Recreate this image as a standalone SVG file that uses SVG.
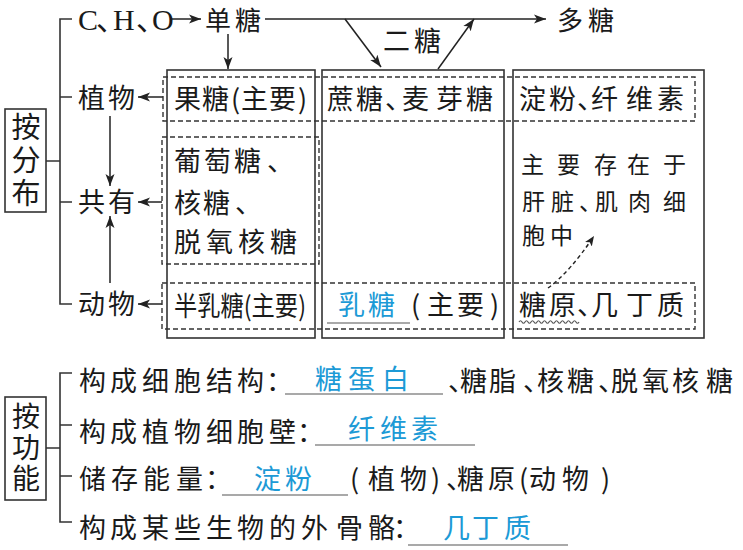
<svg xmlns="http://www.w3.org/2000/svg" width="743" height="550" viewBox="0 0 743 550">
<style>
.t{font-family:"Noto Sans CJK SC","Noto Sans CJK JP",sans-serif;font-size:27px;fill:#1a1a1a}
.top{font-size:26px}
.s{font-size:23px}
.bl{fill:#1c9ad6}
.v{writing-mode:vertical-rl}
.lat{font-family:"Liberation Serif","Noto Sans CJK SC",serif;font-size:30px;fill:#1a1a1a}
.ln{stroke:#333;stroke-width:1.6;fill:none}
.box{stroke:#333;stroke-width:1.6;fill:none}
.dash{stroke:#333;stroke-width:1.4;stroke-dasharray:5 3;fill:none}
.ul{stroke:#555;stroke-width:1.2;fill:none}
.ar{stroke:#222;stroke-width:1.5;fill:none;marker-end:url(#ah)}
.dar{stroke:#222;stroke-width:1.4;fill:none;stroke-dasharray:4 3;marker-end:url(#ahs)}
</style>
<defs>
<marker id="ah" markerUnits="userSpaceOnUse" markerWidth="13" markerHeight="10" refX="12" refY="5" orient="auto">
<path d="M0,0.5 L12,5 L0,9.5 L3,5 z" fill="#222"/>
</marker>
<marker id="ahs" markerUnits="userSpaceOnUse" markerWidth="11" markerHeight="9" refX="10" refY="4.5" orient="auto">
<path d="M0,0.5 L10,4.5 L0,8.5 L2.5,4.5 z" fill="#222"/>
</marker>
</defs>
<rect width="743" height="550" fill="#fff"/>

<g id="connectors">
<path class="ln" d="M72,19 H60 V304 H72 M60,97 H72 M60,202 H72 M46,161 H60"/>
<path class="ln" d="M72,373 H60 V522 H72 M60,425 H72 M60,476 H72 M46,448 H60"/>
<line class="ar" x1="172" y1="19" x2="201" y2="19"/>
<line class="ar" x1="228" y1="34" x2="228" y2="69"/>
<line class="ar" x1="265" y1="19" x2="546" y2="19"/>
<line class="ar" x1="345" y1="19" x2="381" y2="67"/>
<line class="ar" x1="438" y1="69" x2="474" y2="19"/>
<line class="ar" x1="163" y1="97" x2="138" y2="97"/>
<line class="ar" x1="162" y1="202" x2="138" y2="202"/>
<line class="ar" x1="162" y1="304" x2="138" y2="304"/>
<line class="ar" x1="110" y1="116" x2="110" y2="186"/>
<line class="ar" x1="110" y1="283" x2="110" y2="216"/>
<path class="dar" d="M548,288 Q570,272 594,236"/>
</g>

<g id="source">
<text class="lat" x="78 96 113 136 152" y="30">C、H、O</text>
</g>
<g id="monosaccharide"><text class="t top" x="205 235" y="30">单糖</text></g>
<g id="disaccharide"><text class="t" x="383 414" y="51">二糖</text></g>
<g id="polysaccharide"><text class="t top" x="557 588" y="30">多糖</text></g>

<g id="by-distribution">
<rect class="box" x="5" y="109" width="41" height="103"/>
<text class="t v" style="font-size:29px;letter-spacing:4px" x="26" y="112.5">按分布</text>
</g>
<g id="plant"><text class="t" x="78 108" y="108">植物</text></g>
<g id="common"><text class="t" x="78 108" y="212">共有</text></g>
<g id="animal"><text class="t" x="78 108" y="314">动物</text></g>

<g id="col-mono">
<rect class="box" x="167" y="70" width="148" height="268"/>
<text class="t" x="174 202 231 241 269 298" y="109">果糖(主要)</text>
<text class="t" x="174 204 234 267" y="171">葡萄糖、</text>
<text class="t" x="174 203 235" y="213">核糖、</text>
<text class="t" x="174 206 238 270" y="252">脱氧核糖</text>
<text class="t" x="174" y="316" textLength="132" lengthAdjust="spacingAndGlyphs">半乳糖(主要)</text>
</g>
<g id="col-di">
<rect class="box" x="322" y="70" width="182" height="268"/>
<text class="t" x="327 356 385 402 436 466" y="109">蔗糖、麦芽糖</text>
<text class="t bl" x="338 368" y="315">乳糖</text>
<line class="ul" x1="327" y1="323" x2="410" y2="323"/>
<text class="t" x="411 427 457 490" y="315">(主要)</text>
</g>
<g id="col-poly">
<rect class="box" x="513" y="70" width="191" height="268"/>
<text class="t" x="519 549 577 591 626 657" y="109">淀粉、纤维素</text>
<text class="t s" x="521 557 594 627 663" y="173">主要存在于</text>
<text class="t s" x="522 551 579 595 628 663" y="210">肝脏、肌肉细</text>
<text class="t s" x="522 550" y="244">胞中</text>
<text class="t" x="519 549 577 591 626 657" y="315">糖原、几丁质</text>
<path class="ul" d="M519,322 q1.5,-2.5 3,0 t3,0 t3,0 t3,0 t3,0 t3,0 t3,0 t3,0 t3,0 t3,0 t3,0 t3,0 t3,0 t3,0 t3,0 t3,0 t3,0 t3,0 t3,0 t3,0"/>
</g>

<g id="rows">
<rect class="dash" x="163" y="77" width="532" height="44"/>
<rect class="dash" x="162" y="137" width="157" height="127"/>
<rect class="dash" x="162" y="283" width="533" height="46"/>
</g>

<g id="by-function">
<rect class="box" x="5" y="397" width="41" height="103"/>
<text class="t v" style="font-size:28px;letter-spacing:3px" x="26" y="402">按功能</text>
</g>
<g id="func-structure">
<text class="t" x="79 110 142 174 206 237 266" y="391">构成细胞结构：</text>
<line class="ul" x1="285" y1="394" x2="443" y2="394"/>
<text class="t bl" x="315 348 382" y="389">糖蛋白</text>
<text class="t" x="448 460 489 523 537 567 598 611 642 672 706" y="391">、糖脂、核糖、脱氧核糖</text>
</g>
<g id="func-wall">
<text class="t" x="79 110 142 174 206 237 269 297" y="442">构成植物细胞壁：</text>
<line class="ul" x1="315" y1="445" x2="475" y2="445"/>
<text class="t bl" x="348 380 411" y="439">纤维素</text>
</g>
<g id="func-energy">
<text class="t" x="79 111 143 176 205" y="489">储存能量：</text>
<line class="ul" x1="222" y1="495" x2="348" y2="495"/>
<text class="t bl" x="254 285" y="489">淀粉</text>
<text class="t" x="350 368 400 431 446 457 488 519 529 562 601" y="489">(植物)、糖原(动物)</text>
</g>
<g id="func-skeleton">
<text class="t" x="79 110 142 174 206 237 269 301 336 368 393" y="538">构成某些生物的外骨骼：</text>
<line class="ul" x1="408" y1="545" x2="568" y2="545"/>
<text class="t bl" x="443 472 504" y="538">几丁质</text>
</g>
</svg>
